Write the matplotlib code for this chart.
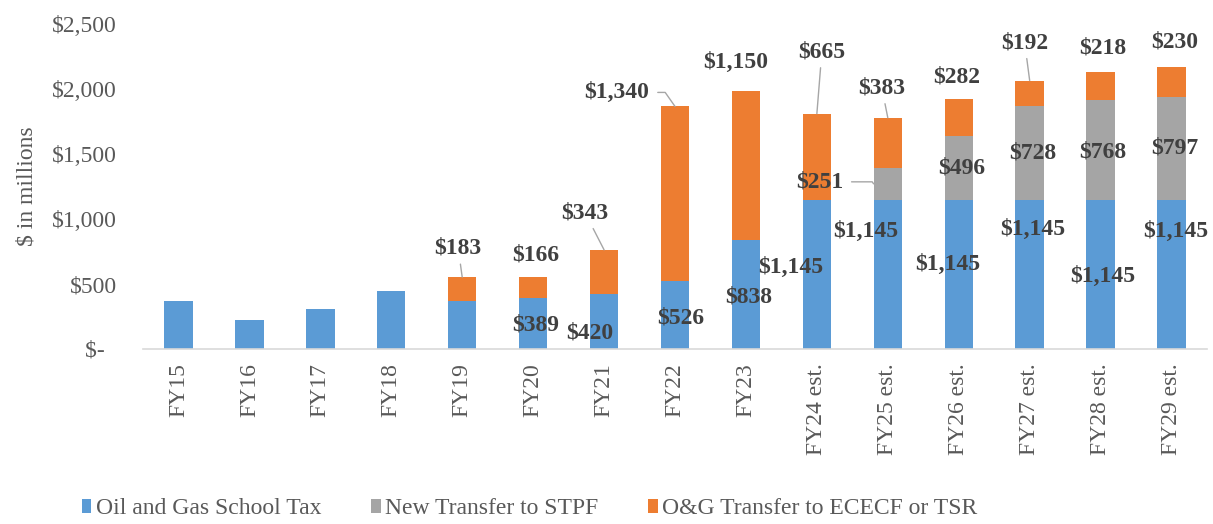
"""Oil and gas school tax and transfers, FY15-FY29 (stacked bars)."""

import matplotlib

matplotlib.use("Agg")
import matplotlib.pyplot as plt
import numpy as np

plt.rcParams["font.family"] = ["Liberation Serif", "DejaVu Serif"]

years = ["FY15", "FY16", "FY17", "FY18", "FY19", "FY20", "FY21", "FY22", "FY23",
         "FY24 est.", "FY25 est.", "FY26 est.", "FY27 est.", "FY28 est.", "FY29 est."]
school_tax = [370, 225, 305, 450, 370, 389, 420, 526, 838, 1145, 1145, 1145, 1145, 1145, 1145]
stpf = [0, 0, 0, 0, 0, 0, 0, 0, 0, 0, 251, 496, 728, 768, 797]
ececf = [0, 0, 0, 0, 183, 166, 343, 1340, 1150, 665, 383, 282, 192, 218, 230]
series_names = ["Oil and Gas School Tax", "New Transfer to STPF", "O&G Transfer to ECECF or TSR"]
yticks = [0, 500, 1000, 1500, 2000, 2500]

# which bars get a value label, and where Excel put it (pixel offsets)
school_labelled = [False] * 5 + [True] * 10
school_offsets = [(0, 0)] * 5 + [(3, -1), (-14, -11), (6, -3), (3, -2), (-26, 7),
                                 (-22, 43), (-11, 10), (3, 45), (2, -2), (4, 43)]
stpf_offsets = {10: (-68, 2), 11: (3, 0), 12: (3, 0), 13: (2, -2), 14: (3, 0)}
ececf_offsets = {4: (-4, 29), 5: (3, 22), 6: (-19, 37), 7: (-58, 14), 8: (-10, 28),
                 9: (5, 62), 10: (-6, 30), 11: (-2, 22), 12: (-5, 38), 13: (2, 24), 14: (3, 25)}
ececf_leaders = {4, 6, 7, 9, 10, 12}

BLUE, GREY, ORANGE = "#5B9BD5", "#A5A5A5", "#ED7D31"
TICK_C, LABEL_C = "#595959", "#404040"
FS = 17
FAMILY = ["Liberation Serif", "DejaVu Serif"]

fig = plt.figure(figsize=(12.13, 5.24), dpi=100)
ax = fig.add_axes([143 / 1213, 1 - 349 / 524, (1207 - 143) / 1213, 325 / 524])

x = np.arange(len(years))
school = np.array(school_tax)
grey = np.array(stpf)
orange = np.array(ececf)
w = 0.4
ax.bar(x, school, w, color=BLUE, label=series_names[0], linewidth=0)
ax.bar(x, grey, w, bottom=school, color=GREY, label=series_names[1], linewidth=0)
ax.bar(x, orange, w, bottom=school + grey, color=ORANGE, label=series_names[2], linewidth=0)

ax.set_xlim(-0.5, 14.5)
ax.set_ylim(0, 2500)
ax.set_yticks(yticks)
ax.set_yticklabels([f"${v:,}" if v else "$-  " for v in yticks])
ax.set_xticks(x)
ax.set_xticklabels(years, rotation=90)
ax.tick_params(axis="y", length=0, pad=19, labelsize=FS, labelcolor=TICK_C)
ax.tick_params(axis="x", length=0, pad=10, labelsize=FS, labelcolor=TICK_C)
for side in ("left", "right", "top"):
    ax.spines[side].set_visible(False)
ax.spines["bottom"].set_color("#D9D9D9")
ax.spines["bottom"].set_linewidth(1.2)


def label(text, xy, off, leader=None):
    arrow = None
    if leader == "straight":
        arrow = dict(arrowstyle="-", color="#A6A6A6", lw=1, shrinkA=2, shrinkB=0)
    elif leader == "elbow":
        arrow = dict(arrowstyle="-", color="#A6A6A6", lw=1, shrinkA=4, shrinkB=0,
                     relpos=(1, 0.5), connectionstyle="angle,angleA=0,angleB=125,rad=0")
    ax.annotate(text, xy=xy, xytext=off, textcoords="offset pixels",
                ha="center", va="center", fontsize=FS, fontweight="bold",
                color=LABEL_C, arrowprops=arrow)


for i in x:
    if school_labelled[i]:
        label(f"${school[i]:,}", (i, school[i] / 2), school_offsets[i])
    if i in stpf_offsets:
        label(f"${grey[i]:,}", (i - w / 2, school[i] + grey[i] / 2) if i == 10
              else (i, school[i] + grey[i] / 2),
              (stpf_offsets[i][0] + 14, stpf_offsets[i][1]) if i == 10 else stpf_offsets[i],
              leader="elbow" if i == 10 else None)
    if i in ececf_offsets:
        top = school[i] + grey[i] + orange[i]
        kind = None
        if i in ececf_leaders:
            kind = "elbow" if i == 7 else "straight"
        label(f"${orange[i]:,}", (i, top), ececf_offsets[i], leader=kind)

fig.text(27 / 1213, 1 - 186 / 524, "$ in millions", rotation=90, ha="center", va="center",
         fontsize=FS, color=TICK_C)

fig.legend(loc="center left", bbox_to_anchor=(70 / 1213, 1 - 509 / 524), ncol=3,
           frameon=False, prop=dict(family=FAMILY, size=FS), labelcolor=TICK_C,
           handlelength=0.4, handleheight=0.5, handletextpad=0.2, columnspacing=2.1,
           borderpad=0)

fig.savefig("out.png", dpi=100)
